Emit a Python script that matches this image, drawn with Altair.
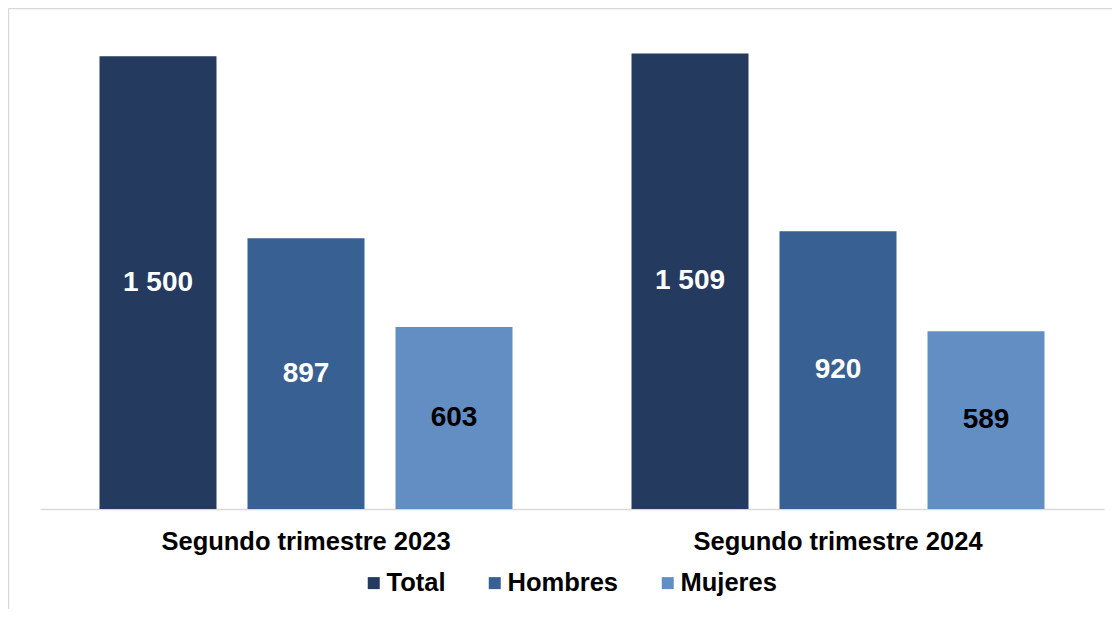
import altair as alt
import pandas as pd

periodos = ["Segundo trimestre 2023", "Segundo trimestre 2024"]
series = ["Total", "Hombres", "Mujeres"]
total = [1500, 1509]
hombres = [897, 920]
mujeres = [603, 589]
colores = ["#243A5E", "#386092", "#628EC4"]

rows = []
for i, p in enumerate(periodos):
    for s, vals in zip(series, [total, hombres, mujeres]):
        rows.append({"periodo": p, "serie": s, "valor": vals[i]})
df = pd.DataFrame(rows)

FONT = "Liberation Sans"
W, H = 1064, 483

x = alt.X(
    "periodo:N", sort=periodos, title=None,
    scale=alt.Scale(paddingInner=0, paddingOuter=0),
    axis=alt.Axis(labelAngle=0, labelFontSize=25.5, labelFontWeight="bold",
                  labelColor="black", labelFont=FONT, ticks=False, labelLimit=600,
                  domainColor="#d9d9d9", domainWidth=1.5, labelPadding=20),
)
xo = alt.XOffset("serie:N", sort=series,
                 scale=alt.Scale(paddingInner=0.2095, paddingOuter=0.402))
yscale = alt.Scale(domain=[0, 1600])

base = alt.Chart(df)

bars = base.mark_bar().encode(
    x=x, xOffset=xo,
    y=alt.Y("valor:Q", scale=yscale, axis=None),
    color=alt.Color(
        "serie:N", sort=series,
        scale=alt.Scale(domain=series, range=colores),
        legend=alt.Legend(orient="none", legendX=321, legendY=544,
                          direction="horizontal", title=None,
                          labelFontSize=25.5, labelFontWeight="bold",
                          labelFont=FONT, labelColor="black", labelLimit=400,
                          symbolType="square", symbolSize=144,
                          symbolStrokeWidth=0, columnPadding=36,
                          labelOffset=0, padding=0),
    ),
)

labels = base.transform_calculate(
    mid="datum.valor / 2",
    etiqueta="replace(format(datum.valor, ','), ',', ' ')",
).mark_text(font=FONT, fontSize=28, fontWeight="bold", baseline="middle").encode(
    x=x, xOffset=xo,
    y=alt.Y("mid:Q", scale=yscale, axis=None),
    text="etiqueta:N",
    color=alt.condition(alt.datum.serie == "Mujeres", alt.value("black"), alt.value("white")),
)

frame = alt.Data(values=[{}])
left_border = alt.Chart(frame).mark_rule(color="#d9d9d9", strokeWidth=1.5).encode(
    x=alt.value(-31.5), y=alt.value(-17.5), y2=alt.value(H + 100)
)
top_border = alt.Chart(frame).mark_rule(color="#d9d9d9", strokeWidth=1.5).encode(
    x=alt.value(-31.5), x2=alt.value(W + 8), y=alt.value(-17.5)
)

chart = alt.layer(bars, labels, left_border, top_border).properties(
    width=W, height=H,
    autosize=alt.AutoSizeParams(type="none"),
    padding={"left": 32, "top": 18, "right": 8, "bottom": 100},
).configure_view(stroke=None)

chart.save("out.html", embed_options={"renderer": "svg", "actions": False})
